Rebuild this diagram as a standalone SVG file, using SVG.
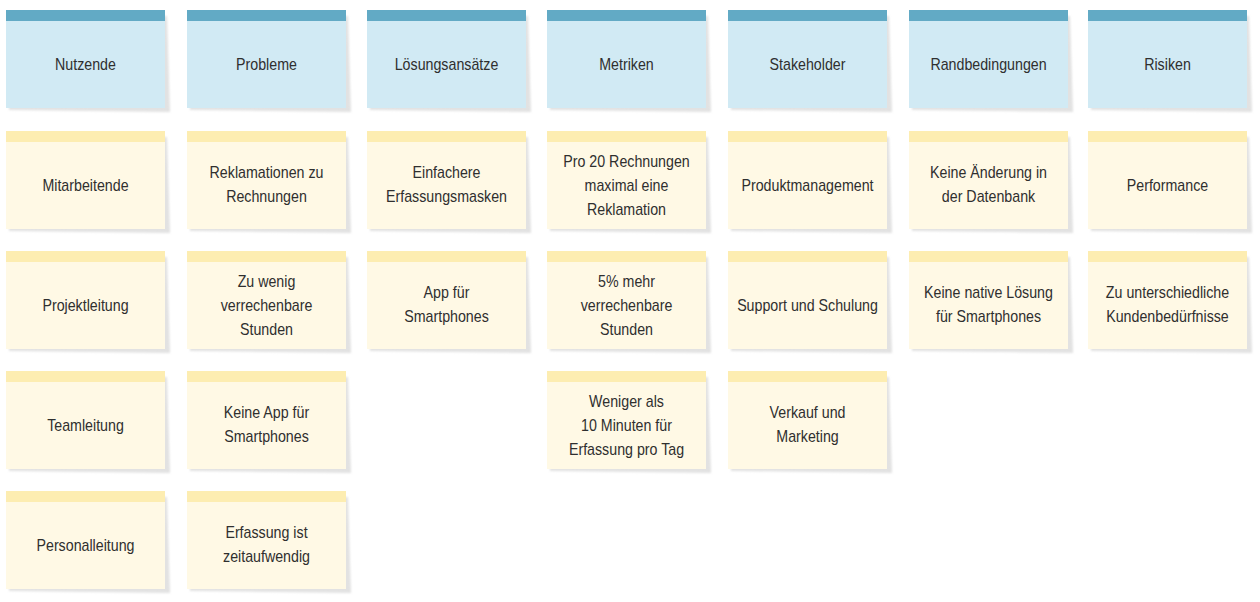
<svg xmlns="http://www.w3.org/2000/svg" width="1260" height="602" viewBox="0 0 1260 602">
<defs>
<filter id="blur" x="-5%" y="-5%" width="110%" height="115%"><feGaussianBlur stdDeviation="1"/></filter>
</defs>
<style>
.sh{fill:#e2e2e2;filter:url(#blur)}
.hb{fill:#d1eaf4}
.hbar{fill:#62aac5}
.nb{fill:#fff9e5}
.nbar{fill:#fdedb1}
text{font-family:"Liberation Sans",Arial,sans-serif;font-size:16px;fill:#2f2f2f;text-anchor:middle}
</style>
<rect width="1260" height="602" fill="#ffffff"/>
<g id="connectors"></g>

<g id="h-nutzende" transform="translate(6,10)"><polygon class="sh" points="3,6 161,6 164,102 3,100"/><rect class="hb" width="159" height="98"/><rect class="hbar" width="159" height="11"/><g transform="translate(79.5,0) scale(0.89,1)"><text x="0" y="60">Nutzende</text></g></g>
<g id="h-probleme" transform="translate(187,10)"><polygon class="sh" points="3,6 161,6 164,102 3,100"/><rect class="hb" width="159" height="98"/><rect class="hbar" width="159" height="11"/><g transform="translate(79.5,0) scale(0.89,1)"><text x="0" y="60">Probleme</text></g></g>
<g id="h-loesungsansaetze" transform="translate(367,10)"><polygon class="sh" points="3,6 161,6 164,102 3,100"/><rect class="hb" width="159" height="98"/><rect class="hbar" width="159" height="11"/><g transform="translate(79.5,0) scale(0.89,1)"><text x="0" y="60">Lösungsansätze</text></g></g>
<g id="h-metriken" transform="translate(547,10)"><polygon class="sh" points="3,6 161,6 164,102 3,100"/><rect class="hb" width="159" height="98"/><rect class="hbar" width="159" height="11"/><g transform="translate(79.5,0) scale(0.89,1)"><text x="0" y="60">Metriken</text></g></g>
<g id="h-stakeholder" transform="translate(728,10)"><polygon class="sh" points="3,6 161,6 164,102 3,100"/><rect class="hb" width="159" height="98"/><rect class="hbar" width="159" height="11"/><g transform="translate(79.5,0) scale(0.89,1)"><text x="0" y="60">Stakeholder</text></g></g>
<g id="h-randbedingungen" transform="translate(909,10)"><polygon class="sh" points="3,6 161,6 164,102 3,100"/><rect class="hb" width="159" height="98"/><rect class="hbar" width="159" height="11"/><g transform="translate(79.5,0) scale(0.89,1)"><text x="0" y="60">Randbedingungen</text></g></g>
<g id="h-risiken" transform="translate(1088,10)"><polygon class="sh" points="3,6 161,6 164,102 3,100"/><rect class="hb" width="159" height="98"/><rect class="hbar" width="159" height="11"/><g transform="translate(79.5,0) scale(0.89,1)"><text x="0" y="60">Risiken</text></g></g>

<g id="n-mitarbeitende" transform="translate(6,131)"><polygon class="sh" points="3,6 161,6 164,102 3,100"/><rect class="nb" width="159" height="98"/><rect class="nbar" width="159" height="11"/><g transform="translate(79.5,0) scale(0.89,1)"><text x="0" y="60">Mitarbeitende</text></g></g>
<g id="n-projektleitung" transform="translate(6,251)"><polygon class="sh" points="3,6 161,6 164,102 3,100"/><rect class="nb" width="159" height="98"/><rect class="nbar" width="159" height="11"/><g transform="translate(79.5,0) scale(0.89,1)"><text x="0" y="60">Projektleitung</text></g></g>
<g id="n-teamleitung" transform="translate(6,371)"><polygon class="sh" points="3,6 161,6 164,102 3,100"/><rect class="nb" width="159" height="98"/><rect class="nbar" width="159" height="11"/><g transform="translate(79.5,0) scale(0.89,1)"><text x="0" y="60">Teamleitung</text></g></g>
<g id="n-personalleitung" transform="translate(6,491)"><polygon class="sh" points="3,6 161,6 164,102 3,100"/><rect class="nb" width="159" height="98"/><rect class="nbar" width="159" height="11"/><g transform="translate(79.5,0) scale(0.89,1)"><text x="0" y="60">Personalleitung</text></g></g>

<g id="n-reklamationen" transform="translate(187,131)"><polygon class="sh" points="3,6 161,6 164,102 3,100"/><rect class="nb" width="159" height="98"/><rect class="nbar" width="159" height="11"/><g transform="translate(79.5,0) scale(0.89,1)"><text x="0" y="47">Reklamationen zu</text><text x="0" y="71">Rechnungen</text></g></g>
<g id="n-zu-wenig" transform="translate(187,251)"><polygon class="sh" points="3,6 161,6 164,102 3,100"/><rect class="nb" width="159" height="98"/><rect class="nbar" width="159" height="11"/><g transform="translate(79.5,0) scale(0.89,1)"><text x="0" y="36">Zu wenig</text><text x="0" y="60">verrechenbare</text><text x="0" y="84">Stunden</text></g></g>
<g id="n-keine-app" transform="translate(187,371)"><polygon class="sh" points="3,6 161,6 164,102 3,100"/><rect class="nb" width="159" height="98"/><rect class="nbar" width="159" height="11"/><g transform="translate(79.5,0) scale(0.89,1)"><text x="0" y="47">Keine App für</text><text x="0" y="71">Smartphones</text></g></g>
<g id="n-erfassung" transform="translate(187,491)"><polygon class="sh" points="3,6 161,6 164,102 3,100"/><rect class="nb" width="159" height="98"/><rect class="nbar" width="159" height="11"/><g transform="translate(79.5,0) scale(0.89,1)"><text x="0" y="47">Erfassung ist</text><text x="0" y="71">zeitaufwendig</text></g></g>

<g id="n-einfachere" transform="translate(367,131)"><polygon class="sh" points="3,6 161,6 164,102 3,100"/><rect class="nb" width="159" height="98"/><rect class="nbar" width="159" height="11"/><g transform="translate(79.5,0) scale(0.89,1)"><text x="0" y="47">Einfachere</text><text x="0" y="71">Erfassungsmasken</text></g></g>
<g id="n-app" transform="translate(367,251)"><polygon class="sh" points="3,6 161,6 164,102 3,100"/><rect class="nb" width="159" height="98"/><rect class="nbar" width="159" height="11"/><g transform="translate(79.5,0) scale(0.89,1)"><text x="0" y="47">App für</text><text x="0" y="71">Smartphones</text></g></g>

<g id="n-pro20" transform="translate(547,131)"><polygon class="sh" points="3,6 161,6 164,102 3,100"/><rect class="nb" width="159" height="98"/><rect class="nbar" width="159" height="11"/><g transform="translate(79.5,0) scale(0.89,1)"><text x="0" y="36">Pro 20 Rechnungen</text><text x="0" y="60">maximal eine</text><text x="0" y="84">Reklamation</text></g></g>
<g id="n-5prozent" transform="translate(547,251)"><polygon class="sh" points="3,6 161,6 164,102 3,100"/><rect class="nb" width="159" height="98"/><rect class="nbar" width="159" height="11"/><g transform="translate(79.5,0) scale(0.89,1)"><text x="0" y="36">5% mehr</text><text x="0" y="60">verrechenbare</text><text x="0" y="84">Stunden</text></g></g>
<g id="n-weniger" transform="translate(547,371)"><polygon class="sh" points="3,6 161,6 164,102 3,100"/><rect class="nb" width="159" height="98"/><rect class="nbar" width="159" height="11"/><g transform="translate(79.5,0) scale(0.89,1)"><text x="0" y="36">Weniger als</text><text x="0" y="60">10 Minuten für</text><text x="0" y="84">Erfassung pro Tag</text></g></g>

<g id="n-produktmanagement" transform="translate(728,131)"><polygon class="sh" points="3,6 161,6 164,102 3,100"/><rect class="nb" width="159" height="98"/><rect class="nbar" width="159" height="11"/><g transform="translate(79.5,0) scale(0.89,1)"><text x="0" y="60">Produktmanagement</text></g></g>
<g id="n-support" transform="translate(728,251)"><polygon class="sh" points="3,6 161,6 164,102 3,100"/><rect class="nb" width="159" height="98"/><rect class="nbar" width="159" height="11"/><g transform="translate(79.5,0) scale(0.89,1)"><text x="0" y="60">Support und Schulung</text></g></g>
<g id="n-verkauf" transform="translate(728,371)"><polygon class="sh" points="3,6 161,6 164,102 3,100"/><rect class="nb" width="159" height="98"/><rect class="nbar" width="159" height="11"/><g transform="translate(79.5,0) scale(0.89,1)"><text x="0" y="47">Verkauf und</text><text x="0" y="71">Marketing</text></g></g>

<g id="n-keine-aenderung" transform="translate(909,131)"><polygon class="sh" points="3,6 161,6 164,102 3,100"/><rect class="nb" width="159" height="98"/><rect class="nbar" width="159" height="11"/><g transform="translate(79.5,0) scale(0.89,1)"><text x="0" y="47">Keine Änderung in</text><text x="0" y="71">der Datenbank</text></g></g>
<g id="n-keine-native" transform="translate(909,251)"><polygon class="sh" points="3,6 161,6 164,102 3,100"/><rect class="nb" width="159" height="98"/><rect class="nbar" width="159" height="11"/><g transform="translate(79.5,0) scale(0.89,1)"><text x="0" y="47">Keine native Lösung</text><text x="0" y="71">für Smartphones</text></g></g>

<g id="n-performance" transform="translate(1088,131)"><polygon class="sh" points="3,6 161,6 164,102 3,100"/><rect class="nb" width="159" height="98"/><rect class="nbar" width="159" height="11"/><g transform="translate(79.5,0) scale(0.89,1)"><text x="0" y="60">Performance</text></g></g>
<g id="n-kundenbeduerfnisse" transform="translate(1088,251)"><polygon class="sh" points="3,6 161,6 164,102 3,100"/><rect class="nb" width="159" height="98"/><rect class="nbar" width="159" height="11"/><g transform="translate(79.5,0) scale(0.89,1)"><text x="0" y="47">Zu unterschiedliche</text><text x="0" y="71">Kundenbedürfnisse</text></g></g>
</svg>
